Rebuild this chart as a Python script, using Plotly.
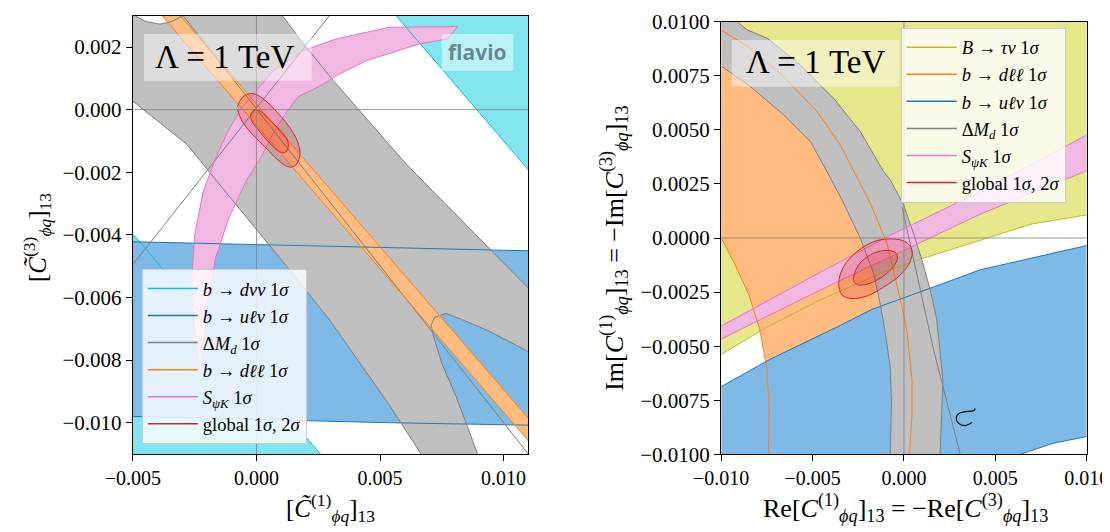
import plotly.graph_objects as go

S = 1e-3  # all contour coordinates below are in units of 1e-3

# ---------------- tick values ----------------
L_XTICKS = [-0.005, 0.0, 0.005, 0.010]
L_YTICKS = [0.002, 0.0, -0.002, -0.004, -0.006, -0.008, -0.010]
R_XTICKS = [-0.010, -0.005, 0.0, 0.005, 0.010]
R_YTICKS = [0.0100, 0.0075, 0.0050, 0.0025, 0.0, -0.0025, -0.0050, -0.0075, -0.0100]
L_XR = [-5, 11]
L_YR = [-11, 3]
R_XR = [-10, 10]
R_YR = [-10, 10]

# ---------------- left panel contours ----------------
# b -> d nu nu (cyan)
CYAN_TR_X = [5.65, 11.0]
CYAN_TR_Y = [3.0, -1.92]
CYAN_BL_X = [-5.0, 2.59]
CYAN_BL_Y = [-3.97, -11.0]
# b -> u l nu (blue band)
BLUE_L_TOP_X = [-5.0, 3.0, 11.0]
BLUE_L_TOP_Y = [-4.22, -4.36, -4.51]
BLUE_L_BOT_X = [-5.0, 5.38, 11.0]
BLUE_L_BOT_Y = [-9.80, -10.0, -10.08]
# Delta M_d (gray)
GRAY_L_NOTCH_X = [-4.92, -4.5, -3.9, -3.4, -2.98]
GRAY_L_NOTCH_Y = [3.0, 2.82, 2.73, 2.82, 3.0]
GRAY_L_UR_X = [1.05, 1.75, 3.03, 6.06, 11.0]
GRAY_L_UR_Y = [3.0, 2.26, 1.0, -1.74, -5.7]
GRAY_L_HYP_X = [11.0, 9.42, 8.3, 7.67, 7.2, 7.07, 7.13, 7.5, 8.08, 8.95]
GRAY_L_HYP_Y = [-7.73, -7.08, -6.7, -6.51, -6.64, -6.88, -7.15, -8.1, -9.17, -11.0]
GRAY_L_LL_X = [-5.0, -2.83, 1.34, 2.96, 5.38, 6.66]
GRAY_L_LL_Y = [0.27, -1.10, -5.12, -6.72, -9.44, -11.0]
GRAY_L_DIAG_X = [-5.0, 2.95]
GRAY_L_DIAG_Y = [-4.95, 3.0]
GRAY_L_THIN_X = [-2.97, 11.0]
GRAY_L_THIN_Y = [3.0, -11.0]
# b -> d l l (orange band)
ORANGE_L_UP_X = [-3.09, 11.0]
ORANGE_L_UP_Y = [3.0, -9.86]
ORANGE_L_LO_X = [-3.82, 11.0]
ORANGE_L_LO_Y = [3.0, -10.58]
# S_psiK (pink crescent)
PINK_L_OUT_X = [-2.25, -2.5, -2.62, -2.5, -2.15, -1.68, -1.21, -0.67, 0.0, 0.67, 1.88, 3.23, 5.38, 7.67, 8.14]
PINK_L_OUT_Y = [-8.45, -7.0, -5.5, -4.0, -2.6, -1.61, -0.78, -0.02, 0.60, 1.24, 1.88, 2.26, 2.63, 2.65, 2.65]
PINK_L_IN_X = [7.74, 6.60, 5.52, 4.44, 3.36, 2.56, 1.68, 1.15, 0.65, 0.2, -0.4, -1.1, -1.65, -2.0, -2.25]
PINK_L_IN_Y = [2.26, 2.10, 1.83, 1.56, 1.14, 0.75, 0.41, -0.15, -0.8, -1.5, -2.25, -3.43, -4.72, -6.24, -8.45]
# global fit (red)
RED_L_2S_X = [-0.767, -0.606, -0.339, -0.069, 0.335, 0.872, 1.414, 1.708, 1.749, 1.547, 1.276, 0.872, 0.335, -0.202, -0.606, -0.767]
RED_L_2S_Y = [0.093, 0.361, 0.498, 0.498, 0.307, -0.118, -0.652, -1.131, -1.505, -1.802, -1.824, -1.610, -1.185, -0.757, -0.332, -0.013]
RED_L_1S_X = [-0.202, -0.097, 0.133, 0.468, 0.941, 1.252, 1.276, 1.143, 0.941, 0.537, 0.133, -0.178, -0.230]
RED_L_1S_Y = [-0.118, -0.013, -0.035, -0.278, -0.652, -0.971, -1.236, -1.377, -1.345, -1.077, -0.706, -0.387, -0.204]

# ---------------- right panel contours ----------------
# B -> tau nu (yellow)
YEL_R_X = [-10.0, -7.33, -4.57, -1.48, 1.0, 4.17, 7.0, 10.0]
YEL_R_Y = [-5.38, -4.04, -2.86, -1.71, -0.95, -0.09, 0.65, 1.07]
# b -> d l l (orange annulus)
ORANGE_R_OUT_X = [-10.0, -8.40, -6.58, -4.75, -3.48, -2.66, -1.84, -0.93, -0.48, -0.11, 0.16, 0.44, 0.44, 0.31]
ORANGE_R_OUT_Y = [9.62, 8.77, 7.46, 5.84, 4.30, 2.99, 1.61, -0.24, -1.78, -3.17, -4.25, -6.56, -8.1, -10.0]
ORANGE_R_IN_X = [-10.0, -9.25, -8.48, -7.9, -7.52, -7.37, -7.42]
ORANGE_R_IN_Y = [0.0, -1.21, -2.63, -4.2, -5.93, -7.81, -10.0]
# b -> u l nu (blue)
BLUE_R_TOP_X = [-10.0, -7.33, -3.48, -1.75, 1.44, 4.17, 10.0]
BLUE_R_TOP_Y = [-6.87, -5.61, -4.04, -3.3, -2.32, -1.47, -0.35]
BLUE_R_BOT_X = [6.36, 8.17, 10.0]
BLUE_R_BOT_Y = [-10.0, -9.49, -9.18]
# Delta M_d (gray annulus)
GRAY_R_OUT_X = [-9.13, -8.58, -7.49, -5.67, -3.85, -2.39, -1.11, -0.75, -0.02, 0.52, 0.98, 1.44, 1.80, 1.98, 2.13, 1.98]
GRAY_R_OUT_Y = [10.0, 9.62, 9.24, 8.0, 6.46, 4.92, 3.07, 2.69, 1.53, 0.22, -1.01, -2.40, -3.79, -5.17, -6.56, -10.0]
GRAY_R_IN_X = [-9.95, -8.40, -6.58, -5.12, -4.21, -3.39, -2.39, -1.66, -1.25, -1.0, -0.75, -0.68, -0.75]
GRAY_R_IN_Y = [7.92, 7.0, 5.69, 4.46, 3.07, 1.76, -0.01, -1.63, -3.25, -4.5, -6.0, -7.5, -10.0]
GRAY_R_THIN_X = [-0.11, 1.62, 3.08]
GRAY_R_THIN_Y = [1.45, -5.17, -10.0]
CURL_X = [3.90, 3.80, 3.35, 2.98, 2.86, 2.98, 3.35, 3.72]
CURL_Y = [-7.88, -7.99, -8.03, -8.13, -8.33, -8.56, -8.67, -8.53]
# S_psiK (pink band)
PINK_R_UP_X = [-10.0, -4.57, -0.57, 4.17, 10.0]
PINK_R_UP_Y = [-4.07, -1.58, 0.2, 2.15, 4.76]
PINK_R_LO_X = [-10.0, -4.57, 4.17, 10.0]
PINK_R_LO_Y = [-4.67, -2.4, 1.1, 3.11]
# global fit (red)
RED_R_2S_X = [-3.57, -3.30, -2.57, -1.66, -0.75, 0.07, 0.44, 0.34, -0.20, -1.11, -2.02, -2.84, -3.39, -3.57]
RED_R_2S_Y = [-2.09, -1.32, -0.63, -0.17, -0.04, -0.17, -0.55, -1.09, -1.71, -2.27, -2.68, -2.80, -2.63, -2.09]
RED_R_1S_X = [-2.75, -2.48, -1.84, -1.11, -0.48, -0.35, -0.57, -1.11, -1.84, -2.48, -2.75, -2.75]
RED_R_1S_Y = [-1.78, -1.24, -0.78, -0.58, -0.66, -0.93, -1.32, -1.75, -2.09, -2.17, -2.02, -1.78]

# ---------------- legends ----------------
LEG_L = [
    ("<i>b</i> → <i>dνν</i> 1<i>σ</i>", "#17becf"),
    ("<i>b</i> → <i>uℓν</i> 1<i>σ</i>", "#1f77b4"),
    ("Δ<i>M<sub>d</sub></i> 1<i>σ</i>", "#7f7f7f"),
    ("<i>b</i> → <i>dℓℓ</i> 1<i>σ</i>", "#ff7f0e"),
    ("<i>S<sub>ψK</sub></i> 1<i>σ</i>", "#e377c2"),
    ("global 1<i>σ</i>, 2<i>σ</i>", "#d62728"),
]
LEG_R = [
    ("<i>B</i> → <i>τν</i> 1<i>σ</i>", "#bcbd22"),
    ("<i>b</i> → <i>dℓℓ</i> 1<i>σ</i>", "#ff7f0e"),
    ("<i>b</i> → <i>uℓν</i> 1<i>σ</i>", "#1f77b4"),
    ("Δ<i>M<sub>d</sub></i> 1<i>σ</i>", "#7f7f7f"),
    ("<i>S<sub>ψK</sub></i> 1<i>σ</i>", "#e377c2"),
    ("global 1<i>σ</i>, 2<i>σ</i>", "#d62728"),
]

# ---------------- styles ----------------
FILL = {"cyan": "#80e5ee", "blue": "#7fbae6", "gray": "#bfbfbf", "orange": "#ffbb80",
        "pink": "#f0b8e0", "yellow": "#e6e68a", "red": "rgba(214,39,40,0.22)"}
EDGE = {"cyan": "#17becf", "blue": "#1f77b4", "gray": "#7f7f7f", "orange": "#ff7f0e",
        "pink": "#e377c2", "yellow": "#bcbd22", "red": "#d62728"}
SERIF = "Liberation Serif"

fig = go.Figure()
AXL = ("x", "y")
AXR = ("x2", "y2")


def sc(v):
    return [a * S for a in v]


def rev(v):
    return list(reversed(v))


def fill(xs, ys, key, ax, shape="linear"):
    fig.add_trace(go.Scatter(x=sc(xs), y=sc(ys), mode="lines", fill="toself",
                             fillcolor=FILL[key], line=dict(width=0, shape=shape),
                             hoverinfo="skip", showlegend=False, xaxis=ax[0], yaxis=ax[1]))


def line(xs, ys, color, ax, width=1.0, shape="linear"):
    fig.add_trace(go.Scatter(x=sc(xs), y=sc(ys), mode="lines",
                             line=dict(color=color, width=width, shape=shape),
                             hoverinfo="skip", showlegend=False, xaxis=ax[0], yaxis=ax[1]))


# ===== left panel fills =====
fill(CYAN_TR_X + [L_XR[1]], CYAN_TR_Y + [L_YR[1]], "cyan", AXL)
fill(CYAN_BL_X + [L_XR[0]], CYAN_BL_Y + [L_YR[0]], "cyan", AXL)
fill(BLUE_L_TOP_X + rev(BLUE_L_BOT_X), BLUE_L_TOP_Y + rev(BLUE_L_BOT_Y), "blue", AXL)
gx = [L_XR[0]] + GRAY_L_NOTCH_X + GRAY_L_UR_X + GRAY_L_HYP_X + rev(GRAY_L_LL_X)
gy = [L_YR[1]] + GRAY_L_NOTCH_Y + GRAY_L_UR_Y + GRAY_L_HYP_Y + rev(GRAY_L_LL_Y)
fill(gx, gy, "gray", AXL)
fill(PINK_L_OUT_X + PINK_L_IN_X, PINK_L_OUT_Y + PINK_L_IN_Y, "pink", AXL)
fill(ORANGE_L_UP_X + rev(ORANGE_L_LO_X), ORANGE_L_UP_Y + rev(ORANGE_L_LO_Y), "orange", AXL)

# ===== left panel lines =====
line(CYAN_TR_X, CYAN_TR_Y, EDGE["cyan"], AXL)
line(CYAN_BL_X, CYAN_BL_Y, EDGE["cyan"], AXL)
line(BLUE_L_TOP_X, BLUE_L_TOP_Y, EDGE["blue"], AXL)
line(BLUE_L_BOT_X, BLUE_L_BOT_Y, EDGE["blue"], AXL)
for cx, cy in [(GRAY_L_NOTCH_X, GRAY_L_NOTCH_Y), (GRAY_L_UR_X, GRAY_L_UR_Y),
               (GRAY_L_HYP_X, GRAY_L_HYP_Y), (GRAY_L_LL_X, GRAY_L_LL_Y),
               (GRAY_L_DIAG_X, GRAY_L_DIAG_Y), (GRAY_L_THIN_X, GRAY_L_THIN_Y)]:
    line(cx, cy, EDGE["gray"], AXL)
line(PINK_L_OUT_X + PINK_L_IN_X, PINK_L_OUT_Y + PINK_L_IN_Y, EDGE["pink"], AXL)
line(ORANGE_L_UP_X, ORANGE_L_UP_Y, EDGE["orange"], AXL)
line(ORANGE_L_LO_X, ORANGE_L_LO_Y, EDGE["orange"], AXL)
for ex, ey in [(RED_L_2S_X, RED_L_2S_Y), (RED_L_1S_X + RED_L_1S_X[:1], RED_L_1S_Y + RED_L_1S_Y[:1])]:
    fill(ex, ey, "red", AXL, shape="spline")
    line(ex, ey, EDGE["red"], AXL, shape="spline")

# ===== right panel fills =====
fill([R_XR[0], R_XR[1]] + rev(YEL_R_X), [R_YR[1], R_YR[1]] + rev(YEL_R_Y), "yellow", AXR)
fill(ORANGE_R_OUT_X + rev(ORANGE_R_IN_X), ORANGE_R_OUT_Y + rev(ORANGE_R_IN_Y), "orange", AXR)
fill(BLUE_R_TOP_X + rev(BLUE_R_BOT_X) + [R_XR[0]], BLUE_R_TOP_Y + rev(BLUE_R_BOT_Y) + [R_YR[0]], "blue", AXR)
fill([R_XR[0]] + GRAY_R_OUT_X + rev(GRAY_R_IN_X), [R_YR[1]] + GRAY_R_OUT_Y + rev(GRAY_R_IN_Y), "gray", AXR)
fill(PINK_R_UP_X + rev(PINK_R_LO_X), PINK_R_UP_Y + rev(PINK_R_LO_Y), "pink", AXR)

# ===== right panel lines =====
line(YEL_R_X, YEL_R_Y, EDGE["yellow"], AXR)
line(ORANGE_R_OUT_X, ORANGE_R_OUT_Y, EDGE["orange"], AXR)
line(ORANGE_R_IN_X, ORANGE_R_IN_Y, EDGE["orange"], AXR)
line(BLUE_R_TOP_X, BLUE_R_TOP_Y, EDGE["blue"], AXR)
line(BLUE_R_BOT_X, BLUE_R_BOT_Y, EDGE["blue"], AXR)
line(GRAY_R_OUT_X, GRAY_R_OUT_Y, EDGE["gray"], AXR)
line(GRAY_R_IN_X, GRAY_R_IN_Y, EDGE["gray"], AXR)
line(GRAY_R_THIN_X, GRAY_R_THIN_Y, EDGE["gray"], AXR)
line(PINK_R_UP_X, PINK_R_UP_Y, EDGE["pink"], AXR)
line(PINK_R_LO_X, PINK_R_LO_Y, EDGE["pink"], AXR)
line(CURL_X, CURL_Y, "black", AXR, width=1.2, shape="spline")
for ex, ey in [(RED_R_2S_X, RED_R_2S_Y), (RED_R_1S_X, RED_R_1S_Y)]:
    fill(ex, ey, "red", AXR, shape="spline")
    line(ex, ey, EDGE["red"], AXR, shape="spline")

# ===== legend entries =====
for name, col in LEG_L:
    fig.add_trace(go.Scatter(x=[None], y=[None], mode="lines", name=name,
                             line=dict(color=col, width=1.5), legend="legend",
                             xaxis="x", yaxis="y"))
for name, col in LEG_R:
    fig.add_trace(go.Scatter(x=[None], y=[None], mode="lines", name=name,
                             line=dict(color=col, width=1.5), legend="legend2",
                             xaxis="x2", yaxis="y2"))

# ===== zero lines =====
for xr, yr in [("x", "y"), ("x2", "y2")]:
    fig.add_shape(type="line", xref=xr + " domain", yref=yr, x0=0, x1=1, y0=0, y1=0,
                  line=dict(color="rgba(128,128,128,0.8)", width=1), layer="above")
    fig.add_shape(type="line", xref=xr, yref=yr + " domain", x0=0, x1=0, y0=0, y1=1,
                  line=dict(color="rgba(128,128,128,0.8)", width=1), layer="above")

# ===== label boxes =====
BOX = "rgba(255,255,255,0.45)"
for x0, x1, y0, y1 in [(0.12341, 0.27559, 0.86126, 0.95038), (0.65671, 0.80853, 0.84981, 0.93893),
                       (0.39356, 0.45853, 0.88034, 0.95038)]:
    fig.add_shape(type="rect", xref="paper", yref="paper", x0=x0, x1=x1, y0=y0, y1=y1,
                  fillcolor=BOX, line=dict(width=0), layer="above")

ann = [
    dict(x=0.19619, y=0.90649, text="Λ = 1 TeV", font=dict(family=SERIF, size=33, color="black")),
    dict(x=0.73321, y=0.89695, text="Λ = 1 TeV", font=dict(family=SERIF, size=33, color="black")),
    dict(x=0.42604, y=0.91527, text="<b>flavio</b>", font=dict(family="Open Sans", size=21, color="rgba(0,0,0,0.45)")),
    dict(x=0.29283, y=0.0458, text="[<i>C̃</i><sup>(1)</sup><sub><i>ϕq</i></sub>]<sub>13</sub>",
         font=dict(family=SERIF, size=25, color="black")),
    dict(x=0.02632, y=0.56107, text="[<i>C̃</i><sup>(3)</sup><sub><i>ϕq</i></sub>]<sub>13</sub>", textangle=-90,
         font=dict(family=SERIF, size=25, color="black")),
    dict(x=0.81488, y=0.0458,
         text="Re[<i>C</i><sup>(1)</sup><sub><i>ϕq</i></sub>]<sub>13</sub> = −Re[<i>C</i><sup>(3)</sup><sub><i>ϕq</i></sub>]<sub>13</sub>",
         font=dict(family=SERIF, size=26, color="black")),
    dict(x=0.54973, y=0.54198,
         text="Im[<i>C</i><sup>(1)</sup><sub><i>ϕq</i></sub>]<sub>13</sub> = −Im[<i>C</i><sup>(3)</sup><sub><i>ϕq</i></sub>]<sub>13</sub>",
         textangle=-90, font=dict(family=SERIF, size=26, color="black")),
]
for a in ann:
    fig.add_annotation(xref="paper", yref="paper", showarrow=False, xanchor="center",
                       yanchor="middle", **a)

axis_common = dict(showline=True, linecolor="black", linewidth=1.3, mirror=True,
                   ticks="outside", ticklen=6, tickwidth=1.2, tickcolor="black",
                   showgrid=False, zeroline=False, automargin=False)
YFONT = dict(family=SERIF, size=21, color="black")
XFONT = dict(family=SERIF, size=20, color="black")

leg_common = dict(xanchor="left", yanchor="top", bgcolor="rgba(255,255,255,0.8)",
                  bordercolor="#cccccc", borderwidth=1, tracegroupgap=0, itemwidth=50,
                  font=dict(family=SERIF, size=18.5, color="black"))

fig.update_layout(
    width=1102, height=524,
    margin=dict(l=0, r=0, t=0, b=0, autoexpand=False),
    paper_bgcolor="white", plot_bgcolor="white",
    xaxis=dict(domain=[0.11334, 0.47214], range=[L_XR[0] * S, L_XR[1] * S], anchor="y",
               tickvals=L_XTICKS, tickformat=".3f", tickfont=XFONT, **axis_common),
    yaxis=dict(domain=[0.14885, 0.98531], range=[L_YR[0] * S, L_YR[1] * S], anchor="x",
               tickvals=L_YTICKS, tickformat=".3f", tickfont=YFONT, **axis_common),
    xaxis2=dict(domain=[0.64719, 0.97886], range=[R_XR[0] * S, R_XR[1] * S], anchor="y2",
                tickvals=R_XTICKS, tickformat=".3f", tickfont=XFONT, **axis_common),
    yaxis2=dict(domain=[0.14828, 0.97385], range=[R_YR[0] * S, R_YR[1] * S], anchor="x2",
                tickvals=R_YTICKS, tickformat=".4f", tickfont=YFONT, **axis_common),
    legend=dict(x=0.12142, y=0.50191, **leg_common),
    legend2=dict(x=0.81007, y=0.96240, **leg_common),
    showlegend=True,
)

fig.write_html("out.html")
